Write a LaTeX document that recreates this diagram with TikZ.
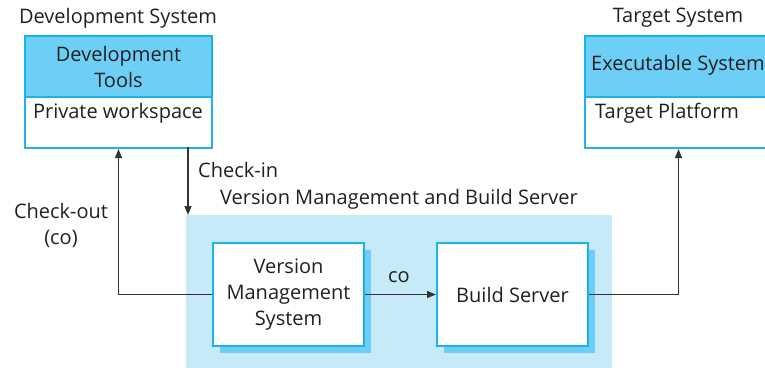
\documentclass[tikz,border=0pt]{standalone}
\usepackage{fontspec}
\setmainfont{Open Sans}
\usetikzlibrary{arrows.meta}
\definecolor{bordercyan}{HTML}{1CB2EA}
\definecolor{hdrblue}{HTML}{6DCFF6}
\definecolor{regionblue}{HTML}{C7EAF9}
\definecolor{linegray}{HTML}{333333}
\definecolor{txt}{HTML}{231F20}
\tikzset{
  hdrbox/.style={draw=bordercyan, line width=2pt, fill=hdrblue, anchor=north west, minimum width=187pt, inner sep=0pt, align=center, text=txt},
  bodybox/.style={draw=bordercyan, line width=2pt, fill=white, anchor=north west, minimum width=187pt, minimum height=51pt, inner sep=0pt},
  procbox/.style={draw=bordercyan, line width=2pt, fill=white, anchor=north west, minimum width=151pt, minimum height=103pt, inner sep=0pt, align=center, text=txt},
  shadowfill/.style={fill=hdrblue},
  lbl/.style={text=txt, inner sep=0pt},
  conn/.style={draw=linegray, line width=1.2pt},
  arr/.style={conn, -{Triangle[length=9pt,width=7pt]}},
}
\begin{document}
\begin{tikzpicture}[x=1pt,y=-1pt, font=\fontsize{20}{26}\selectfont]
\useasboundingbox (0,0) rectangle (765,367);
\clip (0,0) rectangle (765,367);
% region
\fill[regionblue] (186,215) rectangle (612,372);
\node[lbl] (regiontitle) at (399,199) {Version Management and Build Server};
\coordinate (regiontop) at (188,215);
% development system
\node[lbl] (devtitle) at (118,18) {Development System};
\node[hdrbox, minimum height=61pt] (devhdr) at (24,35) {Development\\Tools};
\node[bodybox] (devbody) at (24,96) {};
\node[lbl] (devbodytext) at (118,113) {Private workspace};
% target system
\node[lbl] (tgttitle) at (678,18) {Target System};
\node[hdrbox, minimum height=61pt] (tgthdr) at (584,35) {};
\node[lbl, anchor=west] (tgthdrtext) at (591,65) {Executable System};
\node[bodybox] (tgtbody) at (584,96) {};
\node[lbl, anchor=west] (tgtbodytext) at (595,113) {Target Platform};
% process boxes with shadows
\fill[shadowfill] (220,250) rectangle (371,353);
\fill[shadowfill] (444,250) rectangle (595,353);
\node[procbox] (vms) at (212,242) {Version\\Management\\System};
\node[procbox] (bs) at (436,242) {Build Server};
% connectors
\coordinate (ciStart) at (188,147);
\draw[arr] (vms.west) -| (devbody.south);
\draw[arr] (ciStart) -- (regiontop);
\node[lbl, anchor=west] (checkin) at (198,170) {Check-in};
\node[lbl, align=center] (checkout) at (61,225) {Check-out\\(co)};
\draw[arr] (vms.east) -- (bs.west);
\node[lbl] (colbl) at (399,277) {co};
\draw[arr] (bs.east) -| (tgtbody.south);
\end{tikzpicture}
\end{document}
